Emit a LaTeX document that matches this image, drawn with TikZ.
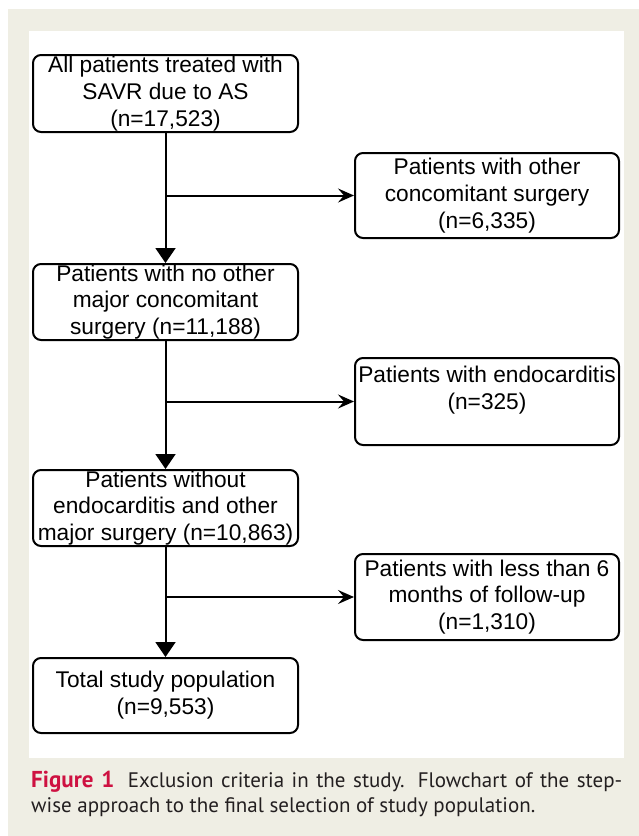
\documentclass[tikz,border=0pt]{standalone}
\usepackage{fontspec}
\setmainfont{Liberation Sans}
\newfontfamily\capfont{PT Sans}
\usetikzlibrary{arrows.meta}
\definecolor{panelbeige}{RGB}{239,238,228}
\definecolor{figred}{RGB}{206,17,65}
\definecolor{captext}{RGB}{35,31,32}
\begin{document}
\begin{tikzpicture}[x=1pt,y=-1pt,
  flowbox/.style={draw=black, line width=2pt, rounded corners=8pt, fill=white,
    align=center, inner sep=0pt, text=black,
    font=\fontsize{22.7}{26.8}\selectfont},
  boxtext/.style={align=center, inner sep=0pt, text=black,
    font=\fontsize{22.7}{26.8}\selectfont},
  downarrow/.style={line width=2pt, -{Triangle[length=15pt,width=20pt]}},
  sidearrow/.style={line width=2pt, -{Stealth[length=16pt,width=14pt,inset=6pt]}},
  captionline/.style={anchor=base west, inner sep=0pt, text=captext,
    font=\capfont\fontsize{21}{26}\selectfont}
]
\useasboundingbox (0,0) rectangle (639,836);
\fill[white] (0,0) rectangle (639,836);
\fill[panelbeige] (8,9) rectangle (639,836);
\fill[white] (29,31) rectangle (624,758);

% main column
\node[flowbox, minimum width=265pt, minimum height=77pt] (b1) at (165.5,93.5)
  {All patients treated with\\SAVR due to AS\\(n=17,523)};
\node[flowbox, minimum width=265pt, minimum height=76pt] (b3) at (165.5,302)
  {Patients with no other\\major concomitant\\surgery (n=11,188)};
\node[flowbox, minimum width=265pt, minimum height=76pt] (b5) at (165.5,508)
  {Patients without\\endocarditis and other\\major surgery (n=10,863)};
\node[flowbox, minimum width=265pt, minimum height=75pt] (b7) at (165.5,695.5)
  {Total study population\\(n=9,553)};

% exclusion column
\node[flowbox, minimum width=264pt, minimum height=85pt] (b2) at (487,195.5)
  {Patients with other\\concomitant surgery\\(n=6,335)};
\node[flowbox, minimum width=264pt, minimum height=87pt] (b4) at (487,401.5) {};
\node[boxtext] (b4t) at (487,390) {Patients with endocarditis\\(n=325)};
\node[flowbox, minimum width=264pt, minimum height=86pt] (b6) at (487,597)
  {Patients with less than 6\\months of follow-up\\(n=1,310)};

% connectors
\draw[downarrow] (b1.south) -- (b3.north);
\draw[downarrow] (b3.south) -- (b5.north);
\draw[downarrow] (b5.south) -- (b7.north);
\coordinate (j1) at (b1.south |- b2.west);
\coordinate (j2) at (b3.south |- b4.west);
\coordinate (j3) at (b5.south |- b6.west);
\draw[sidearrow] (j1) -- (b2.west);
\draw[sidearrow] (j2) -- (b4.west);
\draw[sidearrow] (j3) -- (b6.west);

% caption
\node[captionline] (cap1) at (31,787)
  {\makebox[591pt][s]{{\fontsize{23}{26}\selectfont\bfseries\color{figred}Figure 1}\hspace{6pt} Exclusion criteria in the study. Flowchart of the step-}};
\node[captionline] (cap2) at (31,812)
  {wise approach to the final selection of study population.};
\end{tikzpicture}
\end{document}
